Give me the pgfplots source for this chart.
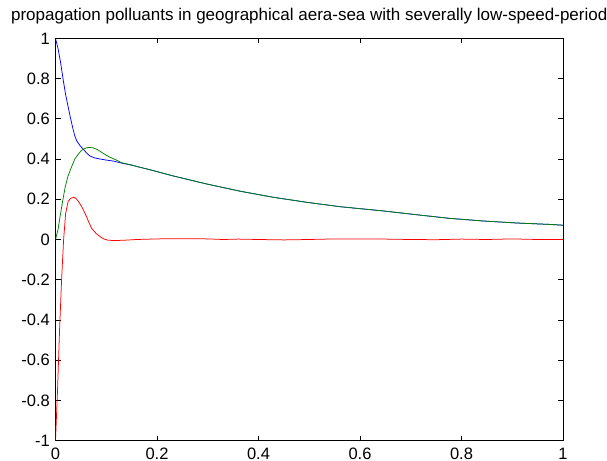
\documentclass[border=0pt]{standalone}
\usepackage{fontspec}
\setmainfont{Liberation Sans}
\usepackage{pgfplots}
\pgfplotsset{compat=1.18}
\definecolor{mblue}{rgb}{0,0,1}
\definecolor{mgreen}{rgb}{0,0.5,0}
\definecolor{mred}{rgb}{1,0,0}
\begin{document}
\begin{tikzpicture}[x=1pt,y=1pt]
\begin{axis}[
  at={(55.5pt,19.4pt)}, anchor=south west,
  scale only axis, width=507.5pt, height=402.2pt,
  xmin=0, xmax=1, ymin=-1, ymax=1,
  xtick={0,0.2,0.4,0.6,0.8,1},
  xticklabels={0,0.2,0.4,0.6,0.8,1},
  ytick={-1,-0.8,-0.6,-0.4,-0.2,0,0.2,0.4,0.6,0.8,1},
  yticklabels={-1,-0.8,-0.6,-0.4,-0.2,0,0.2,0.4,0.6,0.8,1},
  tick align=inside, major tick length=5pt,
  xtick pos=both, ytick pos=both,
  axis line style={line width=0.8pt},
  tick style={line width=0.8pt, black},
  ticklabel style={font=\fontsize{16.5}{19}\selectfont},
  yticklabel style={inner sep=0pt, xshift=-5.5pt},
  xticklabel style={inner sep=0pt, yshift=-7.5pt},
  title={propagation polluants in geographical aera-sea with severally low-speed-period},
  title style={at={(0.5,1)}, anchor=base, yshift=11.6pt, inner sep=0pt, font=\fontsize{17}{20}\selectfont},
  clip=true,
]
\addplot[mblue, line width=0.75pt] coordinates {
(0,1.0) (0.005,0.95) (0.01,0.88) (0.0154,0.79) (0.02,0.72) (0.029,0.61) (0.034,0.555) (0.038,0.515)
(0.042,0.49) (0.048,0.468) (0.055,0.448) (0.062,0.428) (0.068,0.415) (0.078,0.405) (0.088,0.40)
(0.1,0.395) (0.114,0.39) (0.13,0.38) (0.15,0.37) (0.1665,0.359) (0.186,0.347)
(0.232,0.316) (0.298,0.276) (0.364,0.24) (0.429,0.21) (0.495,0.185) (0.561,0.163)
(0.646,0.142) (0.712,0.123) (0.777,0.105) (0.843,0.092) (0.909,0.082) (0.974,0.075) (1,0.071)
};
\addplot[mgreen, line width=0.75pt] coordinates {
(0,0) (0.005,0.05) (0.009,0.113) (0.014,0.19) (0.019,0.26) (0.024,0.31) (0.029,0.345)
(0.038,0.40) (0.045,0.425) (0.052,0.445) (0.06,0.455) (0.065,0.458) (0.074,0.456)
(0.084,0.445) (0.094,0.428) (0.105,0.412) (0.12,0.395) (0.13,0.382) (0.15,0.37)
(0.1665,0.359) (0.186,0.347)
(0.232,0.316) (0.298,0.276) (0.364,0.24) (0.429,0.21) (0.495,0.185) (0.561,0.163)
(0.646,0.142) (0.712,0.123) (0.777,0.105) (0.843,0.092) (0.909,0.082) (0.974,0.075) (1,0.071)
};
\addplot[mred, line width=0.75pt] coordinates {
(0,-1) (0.004,-0.75) (0.008,-0.45) (0.012,-0.2) (0.016,0.0) (0.02,0.13) (0.025,0.19)
(0.03,0.205) (0.036,0.21) (0.04,0.205) (0.045,0.19) (0.05,0.17) (0.055,0.147)
(0.06,0.12) (0.065,0.09) (0.071,0.056) (0.08,0.03) (0.088,0.014) (0.095,0.003)
(0.104,-0.004) (0.12,-0.005) (0.14,-0.003) (0.16,0.0) (0.2,0.003) (0.25,0.004)
(0.3,0.003) (0.33,0.0) (0.36,0.002) (0.4,0.0) (0.45,-0.002) (0.5,0.0) (0.55,0.003)
(0.6,0.003) (0.65,0.002) (0.7,0.0) (0.75,-0.001) (0.8,0.002) (0.85,0.0) (0.9,0.003)
(0.95,0.0) (1,0.0)
};
\end{axis}
\pgfresetboundingbox
\path[use as bounding box] (0,0) rectangle (607pt,460pt);
\end{tikzpicture}
\end{document}
